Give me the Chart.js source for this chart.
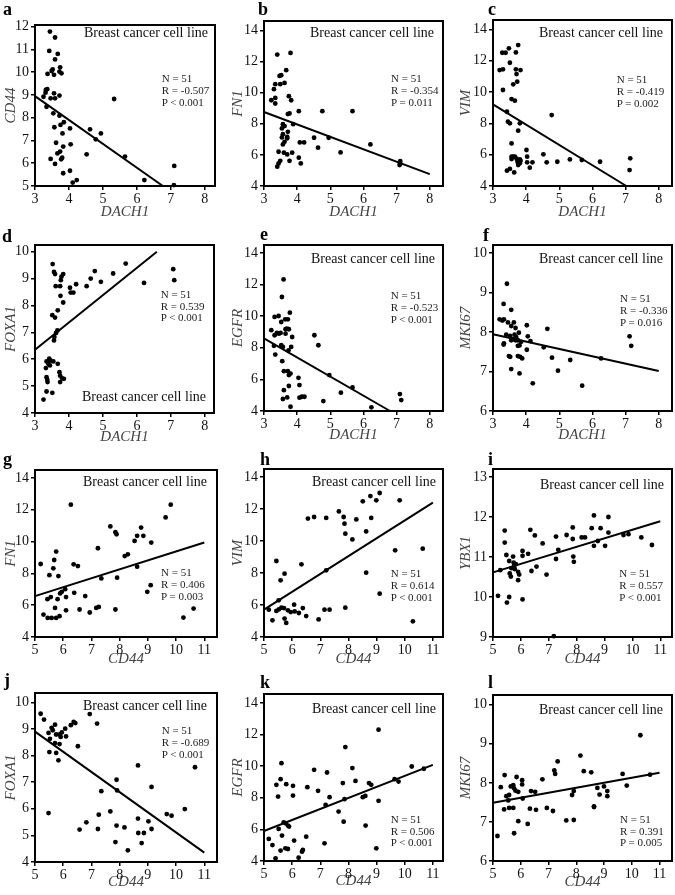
<!DOCTYPE html>
<html><head><meta charset="utf-8">
<script src="https://cdn.jsdelivr.net/npm/chart.js@4.4.1/dist/chart.umd.min.js"></script>
<style>
html,body{margin:0;padding:0;background:#fff;}
body{width:675px;height:895px;position:relative;overflow:hidden;font-family:'Liberation Serif','Times New Roman',serif;}
canvas{position:absolute;}
.lbl{position:absolute;font-weight:bold;font-size:18px;line-height:18px;color:#000;}
.bccl{position:absolute;font-size:14px;line-height:16px;color:#111;white-space:nowrap;text-align:right;}
.stat{position:absolute;font-size:11px;line-height:11.7px;color:#222;white-space:nowrap;}
</style></head><body>
<script>
// ---------- DATA ----------
const panelIds = ['a','b','c','d','e','f','g','h','i','j','k','l'];
const xGene = ['DACH1','DACH1','DACH1','DACH1','DACH1','DACH1','CD44','CD44','CD44','CD44','CD44','CD44'];
const yGene = ['CD44','FN1','VIM','FOXA1','EGFR','MKI67','FN1','VIM','YBX1','FOXA1','EGFR','MKI67'];
const nValue = 51;
const rValues = ['-0.507','-0.354','-0.419','0.539','-0.523','-0.336','0.406','0.614','0.557','-0.689','0.506','0.391'];
const pValues = ['< 0.001','= 0.011','= 0.002','< 0.001','< 0.001','= 0.016','= 0.003','< 0.001','< 0.001','< 0.001','< 0.001','= 0.005'];
const fitSlope = [-1.048,-0.798,-1.296,1.017,-1.21,-0.186,0.562,1.115,0.213,-0.758,0.698,0.128];
const fitIntercept = [12.09,11.15,13.10,3.30,12.23,8.50,3.76,0.135,9.55,12.69,2.41,6.85];
const cellLineLabel = 'Breast cancer cell line';

const ptsA = [[3.44,11.78],[3.59,11.52],[3.42,10.93],[3.67,10.80],[3.59,10.56],[3.74,10.21],[3.52,10.12],[3.49,10.05],[3.37,9.92],[3.56,9.88],[3.72,10.02],[3.78,9.95],[3.32,9.22],[3.36,9.25],[3.25,8.92],[3.31,9.10],[3.56,9.07],[3.46,8.85],[3.59,8.85],[3.72,8.97],[3.34,8.48],[3.54,8.19],[3.72,8.09],[3.85,7.80],[3.75,7.68],[3.57,7.58],[4.03,7.53],[3.81,7.31],[4.62,7.49],[4.94,7.31],[4.79,7.05],[5.33,8.82],[3.62,6.90],[4.05,6.83],[3.83,6.73],[3.74,6.51],[3.66,6.43],[4.52,6.39],[3.46,6.19],[3.77,6.17],[3.80,6.24],[3.59,5.97],[5.65,6.29],[6.22,5.26],[7.10,5.88],[7.09,5.04],[3.83,5.56],[4.03,5.67],[4.23,5.26],[4.11,5.15]];
const ptsB = [[3.40,12.44],[3.80,12.55],[3.67,11.44],[3.52,11.12],[3.47,11.07],[3.62,10.62],[3.34,10.54],[3.49,10.54],[3.30,10.22],[3.34,9.66],[3.22,9.51],[3.34,9.30],[3.75,9.77],[3.82,9.51],[3.77,8.66],[3.72,8.62],[4.05,8.81],[4.76,8.81],[5.67,8.81],[3.57,7.97],[3.62,7.85],[3.88,7.97],[3.54,7.70],[3.57,7.33],[3.70,7.16],[3.70,7.06],[3.54,7.12],[4.51,7.10],[4.95,7.10],[3.62,6.84],[3.57,6.67],[4.08,6.80],[4.21,6.80],[4.63,6.46],[6.21,6.67],[5.31,6.16],[3.44,6.20],[3.60,6.14],[3.70,6.03],[3.85,6.14],[4.05,5.82],[3.77,5.62],[4.11,5.45],[3.49,5.62],[3.44,5.45],[3.40,5.24],[7.11,5.60],[7.11,5.45],[7.09,5.35],[3.72,7.48]];
const ptsC = [[3.76,13.0],[3.48,12.79],[3.28,12.51],[3.38,12.51],[3.69,12.53],[3.51,11.87],[3.20,11.40],[3.30,11.45],[3.69,11.45],[3.83,11.40],[3.71,11.15],[3.73,10.66],[3.61,10.49],[3.30,10.13],[3.56,9.55],[3.66,9.45],[3.42,8.74],[3.45,8.11],[3.51,8.00],[3.81,8.00],[4.77,8.53],[3.76,7.53],[3.56,6.72],[4.01,6.30],[4.03,5.87],[4.52,6.02],[3.56,5.87],[3.61,5.87],[3.56,5.72],[3.71,5.74],[3.81,5.70],[3.74,5.55],[3.81,5.45],[4.03,5.51],[4.19,5.51],[4.62,5.51],[4.94,5.55],[5.32,5.70],[5.68,5.66],[6.23,5.55],[7.14,5.77],[7.12,5.02],[4.11,5.17],[3.51,5.09],[3.42,4.98],[3.64,4.87],[3.76,5.34],[3.83,5.62],[3.66,5.87]];
const ptsD = [[3.52,9.54],[3.56,9.25],[3.59,9.17],[3.83,9.17],[3.78,9.07],[3.76,8.94],[3.61,8.72],[3.74,8.72],[4.21,8.79],[4.52,8.72],[4.64,9.00],[4.76,9.28],[4.94,8.88],[5.30,9.19],[5.67,9.56],[6.21,8.84],[7.07,9.35],[7.10,8.94],[4.03,8.66],[4.05,8.48],[4.13,8.48],[3.75,8.36],[3.83,8.11],[3.67,7.82],[3.51,7.64],[3.59,7.55],[3.66,7.07],[3.62,6.98],[3.57,6.83],[3.56,6.70],[3.42,6.02],[3.46,5.95],[3.34,5.92],[3.54,5.92],[3.44,5.77],[3.32,5.67],[3.67,5.83],[3.72,5.52],[3.74,5.39],[3.80,5.29],[3.85,5.27],[3.34,5.33],[3.36,5.24],[3.37,5.15],[3.74,5.15],[3.34,4.80],[3.51,4.75],[3.25,4.50],[3.39,5.83]];
const ptsE = [[3.59,12.32],[3.54,11.21],[3.32,9.95],[3.44,10.01],[3.52,9.63],[3.64,9.80],[3.72,9.80],[3.78,10.22],[3.22,9.11],[3.39,8.94],[3.45,8.89],[3.50,8.94],[3.32,8.79],[3.65,9.17],[3.75,9.17],[3.65,8.89],[3.85,8.68],[4.52,8.79],[4.64,8.16],[3.30,8.12],[3.52,8.16],[3.57,8.05],[3.82,8.05],[3.74,7.84],[3.34,7.57],[3.55,7.15],[3.60,6.52],[3.72,6.52],[3.75,6.27],[3.80,6.37],[4.97,6.27],[4.04,6.10],[3.60,5.32],[3.75,5.58],[4.07,5.64],[5.67,5.49],[5.32,5.16],[7.10,5.07],[7.14,4.69],[4.07,4.84],[4.14,4.90],[4.22,4.90],[3.70,4.86],[3.57,4.76],[4.79,4.63],[3.80,4.27],[6.24,4.23],[3.69,9.21]];
const ptsF = [[3.42,9.22],[3.32,8.71],[3.55,8.56],[3.20,8.32],[3.28,8.29],[3.33,8.32],[3.45,8.24],[3.63,8.24],[4.02,8.17],[4.64,8.08],[3.55,8.15],[3.68,8.10],[3.40,7.93],[3.52,7.90],[3.65,7.93],[3.70,7.87],[4.05,7.89],[3.33,7.71],[3.32,7.68],[3.55,7.79],[3.62,7.82],[3.68,7.79],[3.75,7.79],[3.85,7.75],[4.13,7.77],[3.80,7.66],[3.75,7.65],[4.02,7.55],[4.53,7.61],[7.12,7.89],[7.17,7.65],[3.48,7.39],[3.52,7.37],[3.75,7.39],[3.82,7.37],[3.88,7.33],[4.78,7.35],[5.33,7.29],[6.26,7.33],[3.55,7.06],[3.80,6.95],[4.96,7.02],[4.20,6.70],[5.69,6.64],[3.78,7.98]];
const ptsG = [[5.20,8.59],[5.68,8.84],[5.75,9.37],[5.65,8.32],[5.51,7.89],[5.83,7.83],[6.27,12.32],[6.37,8.57],[6.52,8.46],[7.23,9.58],[7.67,10.95],[7.85,10.59],[7.89,10.46],[8.53,10.04],[8.62,10.36],[8.76,10.88],[8.84,10.36],[9.12,9.94],[9.63,11.52],[9.81,12.32],[8.18,9.09],[8.29,9.20],[8.62,8.42],[7.35,7.68],[7.91,7.73],[5.44,6.38],[5.56,6.51],[5.89,6.74],[5.95,6.84],[6.07,7.01],[6.10,6.51],[5.80,6.38],[5.71,5.83],[6.39,6.78],[6.78,6.57],[6.10,5.68],[6.58,5.73],[6.94,5.54],[7.17,5.83],[7.26,5.89],[7.85,5.73],[5.30,5.41],[5.45,5.20],[5.59,5.20],[5.75,5.20],[5.87,5.31],[8.98,6.84],[9.10,7.26],[10.26,5.22],[10.62,5.79]];
const ptsH = [[9.11,13.0],[8.78,12.81],[8.51,12.48],[8.99,12.54],[9.82,12.54],[7.66,11.85],[7.83,11.50],[6.56,11.40],[6.78,11.50],[7.21,11.44],[7.86,11.08],[8.28,11.35],[8.81,11.44],[7.89,10.46],[8.14,10.10],[8.63,10.60],[9.66,9.42],[10.64,9.52],[5.44,8.75],[6.33,8.54],[7.21,8.17],[5.73,7.96],[5.59,7.54],[8.63,8.02],[9.11,6.71],[5.52,6.29],[5.17,5.71],[5.44,5.63],[5.53,5.73],[5.62,5.83],[5.71,5.81],[5.85,5.67],[5.95,5.56],[6.07,6.02],[6.09,5.60],[6.24,5.50],[6.38,5.81],[6.50,5.31],[6.94,5.10],[5.73,5.15],[5.79,4.88],[5.30,5.04],[7.15,5.71],[7.33,5.71],[7.89,5.83],[10.29,4.98]];
const ptsI = [[8.62,12.04],[9.14,12.0],[5.42,11.66],[6.34,11.68],[8.54,11.72],[7.86,11.74],[8.86,11.72],[5.42,11.36],[6.50,11.54],[7.64,11.55],[7.26,11.51],[7.86,11.45],[8.18,11.49],[8.30,11.49],[9.14,11.61],[9.68,11.55],[9.86,11.57],[10.32,11.49],[10.70,11.30],[6.78,11.34],[8.62,11.28],[8.76,11.40],[9.02,11.28],[7.34,11.18],[5.48,11.05],[5.72,11.01],[6.06,11.15],[6.06,11.03],[6.26,11.08],[7.88,11.01],[7.90,10.88],[7.26,10.95],[5.58,10.90],[5.74,10.86],[5.76,10.80],[5.82,10.82],[6.56,10.76],[6.38,10.65],[5.66,10.72],[5.78,10.70],[5.60,10.59],[5.90,10.63],[5.64,10.51],[5.94,10.56],[6.92,10.56],[5.26,10.67],[5.90,10.42],[5.18,10.03],[5.58,10.0],[5.50,9.86],[6.06,9.94],[7.18,9.02]];
const ptsJ = [[5.20,9.57],[5.32,9.35],[5.71,9.16],[6.94,9.56],[7.20,9.20],[6.27,9.14],[6.37,9.26],[6.43,9.22],[5.59,9.04],[5.63,8.95],[5.95,8.87],[6.07,9.01],[5.48,8.85],[5.75,8.79],[5.87,8.79],[5.91,8.70],[6.10,8.72],[5.53,8.63],[5.71,8.47],[5.87,8.43],[6.52,8.35],[5.51,8.13],[5.75,8.10],[5.83,7.82],[8.65,7.63],[10.67,7.56],[7.89,7.09],[7.91,6.69],[7.35,6.66],[9.13,6.82],[5.48,5.84],[7.67,5.90],[7.26,5.78],[8.65,5.63],[9.02,5.53],[9.67,5.80],[9.84,5.74],[10.31,5.99],[6.82,5.49],[6.58,5.22],[7.23,5.24],[7.89,5.37],[8.17,5.30],[8.66,5.09],[8.86,5.09],[9.13,5.24],[7.85,4.75],[8.78,4.71],[8.29,4.44]];
const ptsK = [[9.07,12.31],[7.89,11.21],[5.62,10.19],[6.78,9.77],[8.14,9.88],[10.25,9.98],[10.68,9.84],[5.59,9.18],[5.44,8.82],[5.79,8.86],[6.03,8.76],[7.24,9.60],[8.25,9.07],[7.80,8.93],[8.73,8.93],[8.81,8.82],[9.64,9.18],[9.78,9.03],[6.54,8.67],[6.92,8.44],[5.50,8.08],[6.03,8.14],[7.33,8.04],[7.86,7.91],[8.51,8.04],[8.60,8.12],[9.07,7.81],[7.19,7.55],[7.65,7.13],[7.83,6.49],[8.61,6.24],[5.70,6.45],[5.77,6.39],[5.85,6.24],[5.89,6.18],[5.52,6.03],[5.64,5.61],[6.50,5.54],[6.07,5.29],[5.17,5.40],[5.30,5.01],[5.76,4.80],[5.85,4.76],[5.59,4.66],[5.41,4.17],[6.23,4.21],[6.35,4.59],[6.38,4.70],[7.15,5.12],[8.99,4.80]];
const ptsL = [[10.31,9.22],[8.15,8.70],[7.33,8.55],[7.21,8.32],[7.24,8.23],[8.27,8.30],[8.54,8.27],[10.66,8.21],[5.42,8.20],[5.85,8.15],[6.78,8.09],[6.05,8.07],[6.05,7.96],[5.28,7.89],[5.64,7.91],[5.73,7.94],[5.76,7.86],[5.81,7.80],[5.91,7.77],[5.58,7.69],[5.48,7.66],[6.37,7.79],[6.52,7.77],[6.07,7.60],[5.55,7.55],[7.85,7.69],[7.91,7.79],[8.76,7.87],[9.00,7.91],[9.12,7.79],[9.12,7.66],[8.84,7.70],[9.82,7.93],[9.67,8.23],[5.40,7.32],[5.58,7.36],[5.73,7.36],[6.33,7.34],[6.55,7.31],[6.94,7.36],[7.16,7.28],[8.64,7.40],[8.64,7.38],[7.64,7.04],[7.91,7.05],[5.91,7.02],[6.25,6.95],[5.76,6.71],[5.16,6.64]];
const panelPoints = [ptsA,ptsB,ptsC,ptsD,ptsE,ptsF,ptsG,ptsH,ptsI,ptsJ,ptsK,ptsL];

// ---------- LAYOUT (positions / axis ranges) ----------
const layout = [
 {L:35,T:25,R:215,B:186,YW:33,XH:35,xMin:3,xMax:8.3,xLast:8,yMin:5,yMax:12.07,yStep:1,yLast:12, let:[3,0], bc:[208,32.5], st:[161.7,79]},
 {L:264,T:21,R:443,B:186,YW:35,XH:35,xMin:3,xMax:8.4,xLast:8,yMin:4,yMax:14.6,yStep:2,yLast:14, let:[258,0], bc:[434,33], st:[391,79]},
 {L:493,T:20,R:672,B:186,YW:36,XH:35,xMin:3,xMax:8.4,xLast:8,yMin:4,yMax:14.6,yStep:2,yLast:14, let:[488,0], bc:[663,33], st:[616.7,80]},
 {L:35,T:245,R:214,B:413,YW:33,XH:33,xMin:3,xMax:8.27,xLast:8,yMin:4,yMax:10.25,yStep:1,yLast:10, let:[2,227], bc:[206,397], st:[160.7,294.7]},
 {L:264,T:245,R:443,B:411,YW:35,XH:33,xMin:3,xMax:8.4,xLast:8,yMin:4,yMax:14.5,yStep:2,yLast:14, let:[260,225], bc:[435,259], st:[390.7,296]},
 {L:493,T:245,R:672,B:411,YW:36,XH:33,xMin:3,xMax:8.4,xLast:8,yMin:6,yMax:10.2,yStep:1,yLast:10, let:[483,226], bc:[663,259], st:[620,299.3]},
 {L:35,T:470,R:217,B:637,YW:33,XH:31,xMin:5,xMax:11.45,xLast:11,yMin:4,yMax:14.5,yStep:2,yLast:14, let:[3,450], bc:[207,482.3], st:[161,573.3]},
 {L:264,T:469,R:443,B:637,YW:35,XH:31,xMin:5,xMax:11.36,xLast:11,yMin:4,yMax:14.5,yStep:2,yLast:14, let:[260,450], bc:[436,482.3], st:[390.7,574.3]},
 {L:493,T:469,R:672,B:637,YW:36,XH:31,xMin:5,xMax:11.42,xLast:11,yMin:9,yMax:13.2,yStep:1,yLast:13, let:[488,450], bc:[664,485], st:[619.3,574.3]},
 {L:35,T:693,R:217,B:862,YW:33,XH:29,xMin:5,xMax:11.45,xLast:11,yMin:4,yMax:10.35,yStep:1,yLast:10, let:[4,671], bc:[207,706.3], st:[161.7,731.3]},
 {L:264,T:694,R:443,B:861,YW:35,XH:29,xMin:5,xMax:11.36,xLast:11,yMin:4,yMax:14.57,yStep:2,yLast:14, let:[260,673], bc:[436,708.7], st:[390.7,819.7]},
 {L:493,T:695,R:672,B:861,YW:36,XH:30,xMin:5,xMax:11.45,xLast:11,yMin:6,yMax:10.25,yStep:1,yLast:10, let:[488,673], bc:[663,709.7], st:[620,819.7]}
];

const FONT = "'Liberation Serif','Times New Roman',serif";
const PT = 12, PR = 8;

const framePlugin = {
  id: 'frame',
  afterDraw(chart) {
    const {ctx, chartArea: a} = chart;
    ctx.save();
    ctx.strokeStyle = '#000';
    ctx.lineWidth = 2;
    ctx.strokeRect(a.left, a.top, a.right - a.left, a.bottom - a.top);
    ctx.restore();
  }
};

function fitLine(i, c) {
  const m = fitSlope[i], b = fitIntercept[i];
  const f = x => b + m * x;
  const clipX = x => {
    const y = f(x);
    if (y < c.yMin) return (c.yMin - b) / m;
    if (y > c.yLast) return (c.yLast - b) / m;
    return x;
  };
  const x0 = clipX(c.xMin), x1 = clipX(c.xLast);
  return [{x: x0, y: f(x0)}, {x: x1, y: f(x1)}];
}

function axisCommon() {
  return {
    grid: {drawOnChartArea: false, drawTicks: true, tickLength: 4, color: '#000', lineWidth: 1.5},
    border: {display: false}
  };
}

panelIds.forEach((id, i) => {
  const c = layout[i];
  const cv = document.createElement('canvas');
  const W = Math.round(c.R - c.L + c.YW + PR);
  const H = Math.round(c.B - c.T + PT + c.XH);
  cv.width = W; cv.height = H;
  cv.style.left = (c.L - c.YW) + 'px';
  cv.style.top = (c.T - PT) + 'px';
  cv.style.width = W + 'px'; cv.style.height = H + 'px';
  document.body.appendChild(cv);

  new Chart(cv, {
    type: 'scatter',
    data: {
      datasets: [
        {data: panelPoints[i].map(p => ({x: p[0], y: p[1]})), pointRadius: 2.4, pointBackgroundColor: '#000',
         pointBorderWidth: 0, pointBorderColor: '#000', showLine: false, clip: false},
        {data: fitLine(i, c), showLine: true, borderColor: '#000', borderWidth: 2, pointRadius: 0, clip: false, tension: 0}
      ]
    },
    options: {
      responsive: false, animation: false, devicePixelRatio: 1,
      events: [],
      layout: {padding: {top: PT, right: PR, left: 0, bottom: 0}},
      plugins: {legend: {display: false}, tooltip: {enabled: false}},
      scales: {
        x: Object.assign(axisCommon(), {
          type: 'linear', position: 'bottom', min: c.xMin, max: c.xMax,
          afterFit: s => { s.height = c.XH; },
          ticks: {stepSize: 1, includeBounds: false, autoSkip: false, maxRotation: 0, padding: 1,
                  color: '#111', font: {family: FONT, size: 14}},
          title: {display: true, text: xGene[i], color: '#444', padding: 0,
                  font: {family: FONT, size: 15, style: 'italic'}}
        }),
        y: Object.assign(axisCommon(), {
          type: 'linear', position: 'left', min: c.yMin, max: c.yMax,
          afterFit: s => { s.width = c.YW; },
          ticks: {stepSize: c.yStep, includeBounds: false, autoSkip: false, padding: 2,
                  color: '#111', font: {family: FONT, size: 14}},
          title: {display: true, text: yGene[i], color: '#444', padding: 0,
                  font: {family: FONT, size: 15, style: 'italic'}}
        })
      }
    },
    plugins: [framePlugin]
  });

  const lt = document.createElement('div');
  lt.className = 'lbl'; lt.textContent = id;
  lt.style.left = c.let[0] + 'px'; lt.style.top = c.let[1] + 'px';
  document.body.appendChild(lt);

  const bc = document.createElement('div');
  bc.className = 'bccl'; bc.textContent = cellLineLabel;
  bc.style.right = (675 - c.bc[0]) + 'px'; bc.style.top = (c.bc[1] - 8) + 'px';
  document.body.appendChild(bc);

  const st = document.createElement('div');
  st.className = 'stat';
  st.innerHTML = 'N = ' + nValue + '<br>R = ' + rValues[i] + '<br>P ' + pValues[i];
  st.style.left = c.st[0] + 'px'; st.style.top = (c.st[1] - 5.85) + 'px';
  document.body.appendChild(st);
});
</script>
</body></html>
